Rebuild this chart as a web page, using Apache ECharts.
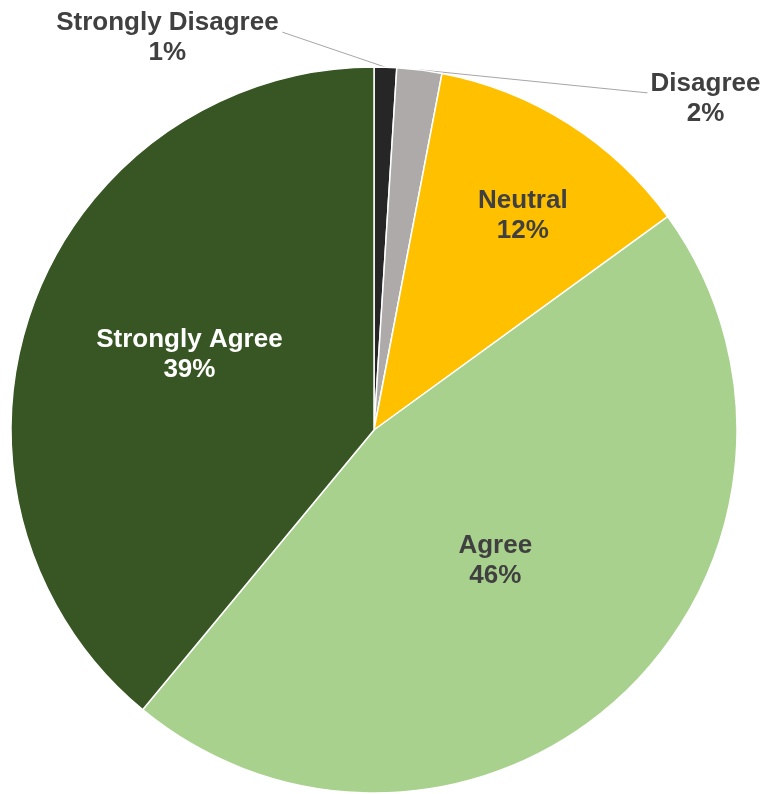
<!DOCTYPE html>
<html>
<head>
<meta charset="utf-8">
<style>
  html, body { margin: 0; padding: 0; background: #ffffff; }
  #chart { width: 766px; height: 794px; }
</style>
<script src="https://cdn.jsdelivr.net/npm/echarts@6/dist/echarts.min.js"></script>
</head>
<body>
<div id="chart"></div>
<script>
// Survey responses, in clockwise order starting at 12 o'clock
const categories = ['Strongly Disagree', 'Disagree', 'Neutral', 'Agree', 'Strongly Agree'];
const shares = [1, 2, 12, 46, 39];

// Styling
const sliceColors = ['#262626', '#AEAAAA', '#FFC000', '#A9D18E', '#375623'];
const labelColors = ['#404040', '#404040', '#404040', '#404040', '#FFFFFF'];
const labelPlacement = ['outside', 'outside', 'inside', 'inside', 'inside'];
// nudges for the inside labels
const insideOffsets = [null, null, [50, -58], [-5, -4], [-11, -13]];
// callouts for the thin slices: label centre and leader end, relative to the slice edge
const callouts = [
  { label: [-218, -29], line: [-103, -35] },
  { label: [286, 29], line: [228, 23] },
  null, null, null
];

const CX = 374, CY = 430, R = 363;
const FONT = '"Liberation Sans", Arial, Helvetica, sans-serif';

const total = shares.reduce((s, v) => s + v, 0);
function midAngle(i) {
  let before = 0;
  for (let k = 0; k < i; k++) before += shares[k];
  return ((before + shares[i] / 2) / total) * Math.PI * 2;
}

const data = categories.map((name, i) => {
  const item = {
    name: name,
    value: shares[i],
    itemStyle: { color: sliceColors[i] },
    label: {
      position: labelPlacement[i],
      color: labelColors[i]
    }
  };
  if (insideOffsets[i]) item.label.offset = insideOffsets[i];
  if (labelPlacement[i] === 'outside') {
    item.labelLine = { show: true, length: 10, length2: 10 };
  } else {
    item.labelLine = { show: false };
  }
  return item;
});

const chart = echarts.init(document.getElementById('chart'), null, { renderer: 'canvas' });
chart.setOption({
  backgroundColor: '#ffffff',
  animation: false,
  series: [{
    type: 'pie',
    center: [CX, CY],
    radius: [0, R],
    startAngle: 90,
    clockwise: true,
    avoidLabelOverlap: false,
    itemStyle: { borderColor: '#ffffff', borderWidth: 1.5 },
    label: {
      show: true,
      fontFamily: FONT,
      fontSize: 26,
      fontWeight: 'bold',
      lineHeight: 30,
      align: 'center',
      formatter: p => p.name + '\n' + Math.round(p.percent) + '%'
    },
    labelLine: {
      show: true,
      smooth: false,
      lineStyle: { color: '#A6A6A6', width: 1 }
    },
    labelLayout: function (p) {
      const c = callouts[p.dataIndex];
      if (!c) return {};
      const a = midAngle(p.dataIndex);
      const sx = CX + R * Math.sin(a);
      const sy = CY - R * Math.cos(a);
      const ex = sx + c.line[0], ey = sy + c.line[1];
      return {
        x: sx + c.label[0],
        y: sy + c.label[1],
        align: 'center',
        verticalAlign: 'middle',
        labelLinePoints: [[sx, sy], [ex, ey], [ex, ey]]
      };
    },
    data: data
  }]
});
</script>
</body>
</html>
